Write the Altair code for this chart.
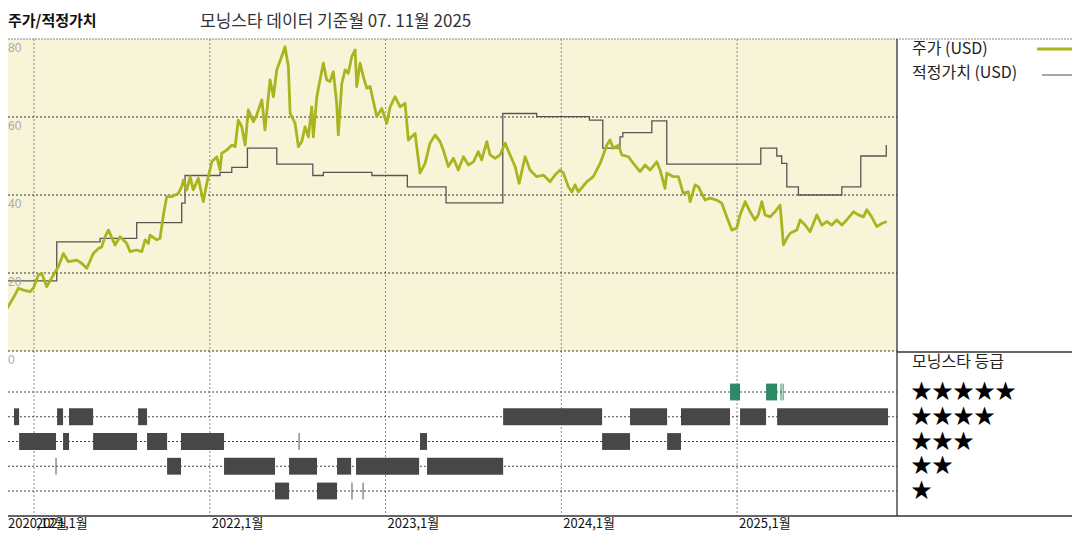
import altair as alt
import pandas as pd

FONT = "Noto Sans CJK KR"

# x positions are decimal years
X_START, X_END = 2020.829, 2025.910

price_year = [2020.830, 2020.863, 2020.892, 2020.911, 2020.939, 2020.977, 2020.996, 2021.024, 2021.044, 2021.072,
              2021.110, 2021.138, 2021.167, 2021.195, 2021.243, 2021.271, 2021.300, 2021.337, 2021.366, 2021.385,
              2021.404, 2021.423, 2021.461, 2021.489, 2021.527, 2021.546, 2021.584, 2021.613, 2021.632, 2021.650,
              2021.660, 2021.698, 2021.717, 2021.736, 2021.755, 2021.784, 2021.821, 2021.840, 2021.850, 2021.869,
              2021.888, 2021.906, 2021.935, 2021.963, 2021.983, 2022.011, 2022.040, 2022.058, 2022.068, 2022.096,
              2022.125, 2022.144, 2022.162, 2022.182, 2022.201, 2022.219, 2022.248, 2022.267, 2022.296, 2022.314,
              2022.343, 2022.362, 2022.381, 2022.409, 2022.428, 2022.447, 2022.457, 2022.485, 2022.504, 2022.523,
              2022.542, 2022.561, 2022.580, 2022.589, 2022.609, 2022.627, 2022.646, 2022.665, 2022.684, 2022.703,
              2022.722, 2022.731, 2022.751, 2022.770, 2022.788, 2022.808, 2022.827, 2022.836, 2022.855, 2022.874,
              2022.893, 2022.912, 2022.931, 2022.950, 2022.978, 2023.007, 2023.026, 2023.054, 2023.083, 2023.111,
              2023.130, 2023.168, 2023.196, 2023.225, 2023.253, 2023.282, 2023.310, 2023.329, 2023.357, 2023.386,
              2023.414, 2023.443, 2023.471, 2023.500, 2023.528, 2023.547, 2023.576, 2023.595, 2023.623, 2023.652,
              2023.680, 2023.708, 2023.737, 2023.760, 2023.794, 2023.822, 2023.860, 2023.898, 2023.936, 2023.964,
              2023.993, 2024.012, 2024.040, 2024.060, 2024.078, 2024.097, 2024.145, 2024.182, 2024.221, 2024.259,
              2024.277, 2024.296, 2024.325, 2024.344, 2024.382, 2024.410, 2024.448, 2024.477, 2024.505, 2024.543,
              2024.562, 2024.590, 2024.600, 2024.638, 2024.666, 2024.694, 2024.723, 2024.733, 2024.761, 2024.780,
              2024.818, 2024.846, 2024.885, 2024.913, 2024.941, 2024.970, 2024.998, 2025.017, 2025.046, 2025.074,
              2025.102, 2025.121, 2025.141, 2025.159, 2025.188, 2025.216, 2025.245, 2025.264, 2025.283, 2025.302,
              2025.340, 2025.359, 2025.387, 2025.415, 2025.454, 2025.482, 2025.510, 2025.539, 2025.567, 2025.596,
              2025.624, 2025.662, 2025.690, 2025.719, 2025.738, 2025.766, 2025.795, 2025.823, 2025.852]
price_usd = [9.7, 12.2, 14.4, 16.1, 15.6, 15.2, 16.1, 19.5, 19.9, 16.5,
             19.5, 21.6, 25.0, 22.9, 23.3, 22.5, 21.2, 25.0, 26.3, 26.7,
             29.3, 31.0, 27.2, 29.3, 27.6, 25.5, 25.9, 25.5, 28.5, 27.6,
             29.7, 28.5, 28.9, 34.9, 39.6, 39.6, 40.4, 42.1, 43.8, 41.3,
             44.7, 41.3, 44.3, 38.3, 43.0, 48.5, 49.8, 46.4, 50.7, 51.5,
             52.8, 52.4, 59.2, 57.5, 52.8, 61.8, 58.8, 60.5, 64.4, 56.7,
             69.5, 65.2, 72.1, 75.5, 78.0, 72.9, 60.9, 58.4, 52.4, 53.7,
             57.5, 54.9, 62.6, 54.9, 65.2, 69.5, 73.8, 69.5, 69.1, 71.6,
             63.5, 55.4, 68.6, 72.1, 71.2, 75.5, 77.2, 67.8, 73.8, 70.3,
             67.4, 67.8, 63.9, 60.1, 62.2, 58.4, 62.6, 65.2, 62.6, 63.5,
             54.1, 55.8, 45.6, 48.1, 53.3, 55.4, 53.7, 51.5, 47.3, 49.4,
             46.4, 49.8, 47.7, 48.5, 51.1, 49.0, 53.7, 50.3, 49.4, 50.3,
             53.3, 50.3, 47.3, 43.0, 49.8, 46.4, 44.7, 45.1, 43.4, 45.1,
             46.4, 45.6, 42.1, 40.8, 42.6, 40.8, 43.4, 44.7, 48.1, 52.8,
             54.1, 52.0, 52.8, 50.3, 49.8, 48.1, 46.0, 47.7, 46.4, 48.5,
             46.4, 41.7, 45.6, 44.7, 44.7, 40.4, 40.8, 38.3, 42.6, 42.1,
             38.7, 39.2, 38.7, 37.9, 34.4, 31.0, 31.5, 34.9, 38.3, 35.7,
             33.6, 34.9, 38.3, 34.9, 34.4, 35.7, 37.4, 27.2, 28.9, 30.2,
             31.0, 33.6, 32.3, 30.6, 34.9, 32.3, 33.2, 32.3, 33.6, 32.3,
             33.6, 35.7, 34.9, 34.4, 36.2, 34.4, 31.9, 32.7, 33.2]

fair_year = [2020.835, 2021.129, 2021.376, 2021.584, 2021.840, 2021.859, 2022.058, 2022.125, 2022.214, 2022.381,
             2022.586, 2022.646, 2022.922, 2023.124, 2023.344, 2023.667, 2023.860, 2024.160, 2024.236, 2024.334,
             2024.350, 2024.515, 2024.600, 2025.135, 2025.226, 2025.254, 2025.283, 2025.349, 2025.596, 2025.704,
             2025.849]
fair_usd = [18.0, 28.0, 28.9, 32.9, 37.9, 45.0, 45.8, 47.1, 52.0, 47.9,
            45.0, 45.8, 45.0, 42.1, 38.0, 60.9, 60.1, 59.2, 52.0, 54.9,
            56.0, 59.0, 47.9, 52.0, 50.0, 48.1, 42.1, 40.0, 42.1, 50.0,
            52.8]

# Morningstar rating periods
seg_from = [2020.886, 2021.131, 2021.199, 2021.592, 2023.669, 2024.391, 2024.681, 2025.017, 2025.228,
            2020.915, 2021.165, 2021.336, 2021.643, 2021.836, 2023.196, 2024.232, 2024.602,
            2021.757, 2022.081, 2022.451, 2022.724, 2022.832, 2023.236,
            2022.371, 2022.610,
            2024.960, 2025.165]
seg_to = [2020.915, 2021.165, 2021.336, 2021.643, 2024.232, 2024.602, 2024.960, 2025.165, 2025.859,
          2021.125, 2021.199, 2021.586, 2021.757, 2022.081, 2023.236, 2024.391, 2024.681,
          2021.836, 2022.371, 2022.610, 2022.804, 2023.191, 2023.669,
          2022.451, 2022.724,
          2025.017, 2025.228]
seg_stars = [4, 4, 4, 4, 4, 4, 4, 4, 4,
             3, 3, 3, 3, 3, 3, 3, 3,
             2, 2, 2, 2, 2, 2,
             1, 1,
             5, 5]
tick_year = [2021.125, 2022.508, 2022.809, 2022.872, 2025.250, 2025.262]
tick_stars = [2, 3, 1, 1, 5, 5]

grid_years = [2021, 2022, 2023, 2024, 2025]
xlab_pos = [2021, 2022, 2023, 2024, 2025]
xlab_text = ["2021,1월", "2022,1월", "2023,1월", "2024,1월", "2025,1월"]
first_label = "2020,12월"
price_ticks = [0, 20, 40, 60, 80]
price_grid = [0, 20, 40, 60]
star_levels = [5, 4, 3, 2, 1]
star_text = ["★★★★★", "★★★★", "★★★", "★★", "★"]

PRICE_COLOR = "#a9b41f"
FAIR_COLOR = "#555555"
BAR_COLOR = "#474747"
FIVE_COLOR = "#2e8a66"
BG = "#f8f4d8"

W, H = 1064, 524

xs = alt.Scale(domain=[X_START, X_END], range=[-4, 889], nice=False, zero=False)
yp = alt.Scale(domain=[0, 80], range=[343, 31], nice=False, zero=False)
yr = alt.Scale(domain=[1, 5], range=[483, 384], nice=False, zero=False)


def X(f):
    return alt.X(f, type="quantitative", scale=xs, axis=None)


def YP(f):
    return alt.Y(f, type="quantitative", scale=yp, axis=None)


def YR(f):
    return alt.Y(f, type="quantitative", scale=yr, axis=None)


span = pd.DataFrame({"a": [X_START], "b": [X_END], "lo": [0], "hi": [80]})
bg = alt.Chart(span).mark_rect(color=BG).encode(x=X("a"), x2="b", y=YP("lo"), y2="hi")

hgrid_df = pd.DataFrame({"v": price_grid, "a": X_START, "b": X_END})
hgrid = alt.Chart(hgrid_df).mark_rule(color="#333333", strokeDash=[2, 2], strokeWidth=1).encode(
    x=X("a"), x2="b", y=YP("v"))

rows_df = pd.DataFrame({"n": star_levels, "a": X_START, "b": X_END})
rows = alt.Chart(rows_df).mark_rule(color="#444444", strokeDash=[2, 2], strokeWidth=1).encode(
    x=X("a"), x2="b", y=YR("n"))

vgrid = alt.Chart(pd.DataFrame({"y": grid_years})).mark_rule(
    color="#8a8a8a", strokeDash=[2, 2], strokeWidth=1).encode(
    x=X("y"), y=alt.value(31), y2=alt.value(508))

top_line = alt.Chart(pd.DataFrame({"k": [0]})).mark_rule(
    color="#888888", strokeDash=[2, 1], strokeWidth=1).encode(
    x=alt.value(0), x2=alt.value(W), y=alt.value(31))
right_border = alt.Chart(pd.DataFrame({"k": [0]})).mark_rule(color="#333333", strokeWidth=1.3).encode(
    x=alt.value(889), y=alt.value(31), y2=alt.value(508))
bottom_border = alt.Chart(pd.DataFrame({"k": [0]})).mark_rule(color="#333333", strokeWidth=1.3).encode(
    x=alt.value(0), x2=alt.value(W), y=alt.value(508))
legend_sep = alt.Chart(pd.DataFrame({"k": [0]})).mark_rule(color="#333333", strokeWidth=1.3).encode(
    x=alt.value(889), x2=alt.value(W), y=alt.value(344))

seg_df = pd.DataFrame({"s": seg_from, "e": seg_to, "r": seg_stars})
bars = alt.Chart(seg_df).transform_calculate(
    lo="datum.r - 0.34", hi="datum.r + 0.34").mark_rect().encode(
    x=X("s"), x2="e", y=YR("lo:Q"), y2="hi:Q",
    color=alt.condition(alt.datum.r == 5, alt.value(FIVE_COLOR), alt.value(BAR_COLOR)))

tick_df = pd.DataFrame({"t": tick_year, "r": tick_stars})
ticks = alt.Chart(tick_df).transform_calculate(
    lo="datum.r - 0.34", hi="datum.r + 0.34").mark_rule(strokeWidth=1).encode(
    x=X("t"), y=YR("lo:Q"), y2="hi:Q",
    color=alt.condition(alt.datum.r == 5, alt.value(FIVE_COLOR), alt.value("#555555")))

fair = alt.Chart(pd.DataFrame({"t": fair_year, "v": fair_usd})).mark_line(
    interpolate="step-after", color=FAIR_COLOR, strokeWidth=1.3).encode(x=X("t"), y=YP("v"))
price = alt.Chart(pd.DataFrame({"t": price_year, "v": price_usd})).mark_line(
    color=PRICE_COLOR, strokeWidth=2.8, strokeJoin="round").encode(x=X("t"), y=YP("v"))

ylabels = alt.Chart(pd.DataFrame({"v": price_ticks})).mark_text(
    align="left", baseline="top", dx=0, dy=4, color="#aaaaaa", fontSize=12, font="Liberation Sans").encode(
    x=alt.value(0), y=YP("v"), text="v:Q")

xlabels = alt.Chart(pd.DataFrame({"p": xlab_pos, "t": xlab_text})).mark_text(
    align="left", baseline="top", dx=2, color="#111111", fontSize=13, font=FONT).encode(
    x=X("p"), y=alt.value(510), text="t:N")
xlabel0 = alt.Chart(pd.DataFrame({"p": [X_START], "t": [first_label]})).mark_text(
    align="left", baseline="top", dx=4, color="#111111", fontSize=13, font=FONT).encode(
    x=X("p"), y=alt.value(510), text="t:N")

title1 = alt.Chart(pd.DataFrame({"t": ["주가/적정가치"]})).mark_text(
    align="left", baseline="middle", fontSize=15, fontWeight="bold", color="#111111", font=FONT).encode(
    x=alt.value(0), y=alt.value(13), text="t:N")
title2 = alt.Chart(pd.DataFrame({"t": ["모닝스타 데이터 기준월 07. 11월 2025"]})).mark_text(
    align="left", baseline="middle", fontSize=17, color="#333333", font=FONT).encode(
    x=alt.value(192), y=alt.value(14), text="t:N")

leg_text = alt.Chart(pd.DataFrame({"t": ["주가 (USD)", "적정가치 (USD)"], "yy": [41, 65]})).mark_text(
    align="left", baseline="middle", fontSize=16, color="#222222", font=FONT).encode(
    x=alt.value(904), y=alt.Y("yy:Q", scale=None, axis=None), text="t:N")
leg_price = alt.Chart(pd.DataFrame({"k": [0]})).mark_rule(color=PRICE_COLOR, strokeWidth=3).encode(
    x=alt.value(1029), x2=alt.value(1064), y=alt.value(41))
leg_fair = alt.Chart(pd.DataFrame({"k": [0]})).mark_rule(color="#777777", strokeWidth=1.3).encode(
    x=alt.value(1034), x2=alt.value(1064), y=alt.value(67))
rating_title = alt.Chart(pd.DataFrame({"t": ["모닝스타 등급"]})).mark_text(
    align="left", baseline="middle", fontSize=16, color="#222222", font=FONT).encode(
    x=alt.value(904), y=alt.value(354), text="t:N")
stars = alt.Chart(pd.DataFrame({"n": star_levels, "s": star_text})).mark_text(
    align="left", baseline="middle", fontSize=21, color="#000000", font=FONT).encode(
    x=alt.value(903), y=YR("n"), text="s:N")

chart = alt.layer(
    bg, vgrid, hgrid, rows, top_line, bars, ticks, fair, price,
    right_border, bottom_border, legend_sep,
    ylabels, xlabels, xlabel0, title1, title2,
    leg_text, leg_price, leg_fair, rating_title, stars,
).resolve_scale(y="independent").properties(
    width=W, height=H, autosize=alt.AutoSizeParams(type="none"), padding=0
).configure_view(stroke=None)

chart.save("out.html", embed_options={"renderer": "svg", "actions": False})
